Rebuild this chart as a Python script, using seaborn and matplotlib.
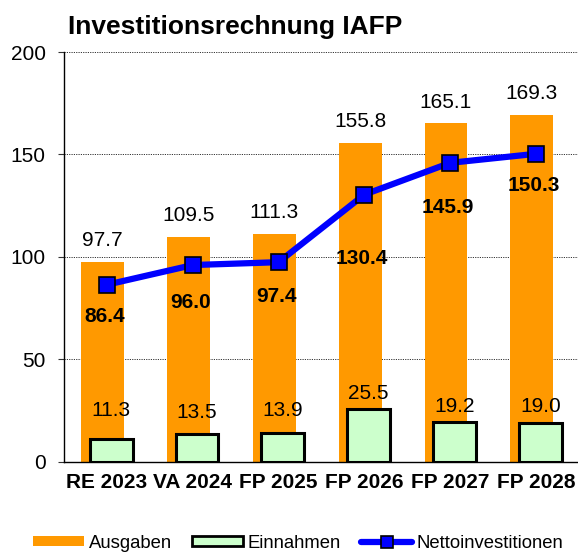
import matplotlib
matplotlib.use("Agg")
import matplotlib.pyplot as plt
import seaborn as sns
import pandas as pd
from matplotlib.patches import Patch
from matplotlib.lines import Line2D

# ---- data ----
categories = ["RE 2023", "VA 2024", "FP 2025", "FP 2026", "FP 2027", "FP 2028"]
ausgaben = [97.7, 109.5, 111.3, 155.8, 165.1, 169.3]
einnahmen = [11.3, 13.5, 13.9, 25.5, 19.2, 19.0]
netto = [86.4, 96.0, 97.4, 130.4, 145.9, 150.3]
yticks = [0, 50, 100, 150, 200]

# ---- layout (label offsets in points) ----
off_ausgaben = 11.5
off_einnahmen = [16.3, 11.5, 12.2, 7.7, 7.2, 7.7]
off_netto = [26.6, 31.0, 28.8, 49.7, 36.0, 26.6]

ORANGE = "#FF9900"
GREEN = "#CCFFCC"
BLUE = "#0000FF"

sns.set_style("white")
plt.rcParams["font.family"] = ["Liberation Sans", "DejaVu Sans"]
plt.rcParams["text.color"] = "black"
plt.rcParams["axes.labelcolor"] = "black"
plt.rcParams["xtick.color"] = "black"
plt.rcParams["ytick.color"] = "black"

df = pd.DataFrame({"cat": categories, "aus": ausgaben, "ein": einnahmen, "net": netto})

W, H = 578, 552
fig = plt.figure(figsize=(W / 100, H / 100), dpi=100)
ax = fig.add_axes([64 / W, (H - 461.7) / H, (579 - 64) / W, (461.7 - 52) / H])

sns.barplot(data=df, x="cat", y="aus", color=ORANGE, width=0.5, saturation=1,
            edgecolor="none", ax=ax, zorder=2)
n_aus = len(ax.patches)
for p in ax.patches:
    p.set_x(p.get_x() - 0.05)

sns.barplot(data=df, x="cat", y="ein", color=GREEN, width=0.5, saturation=1,
            edgecolor="black", linewidth=2.2, ax=ax, zorder=3)
green_patches = ax.patches[n_aus:]
for p in green_patches:
    p.set_x(p.get_x() + 0.05)

sns.lineplot(data=df, x="cat", y="net", color=BLUE, linewidth=4.5, marker="s",
             markersize=11, markerfacecolor=BLUE, markeredgecolor="black",
             markeredgewidth=1.2, sort=False, ax=ax, zorder=4)

# labels
for i, p in enumerate(ax.patches[:n_aus]):
    ax.annotate(f"{ausgaben[i]:.1f}", (p.get_x() + p.get_width() / 2, p.get_height()),
                xytext=(0, off_ausgaben), textcoords="offset points",
                ha="center", va="baseline", fontsize=15, color="black", zorder=6)
for i, p in enumerate(green_patches):
    ax.annotate(f"{einnahmen[i]:.1f}", (p.get_x() + p.get_width() / 2, p.get_height()),
                xytext=(0, off_einnahmen[i]), textcoords="offset points",
                ha="center", va="baseline", fontsize=15, color="black", zorder=6)
for i, v in enumerate(netto):
    ax.annotate(f"{v:.1f}", (i - 0.03, v), xytext=(0, -off_netto[i]),
                textcoords="offset points", ha="center", va="baseline",
                fontsize=15, fontweight="bold", color="black", zorder=6)

ax.set_xlim(-0.5, 5.5)
ax.set_ylim(0, 200)
ax.set_yticks(yticks)
ax.set_yticklabels([str(t) for t in yticks])
ax.set_xlabel("")
ax.set_ylabel("")
ax.yaxis.grid(True, linestyle=(0, (1.2, 1.2)), color="#333333", linewidth=0.7, zorder=0)
ax.set_axisbelow(True)
for s in ["top", "right"]:
    ax.spines[s].set_visible(False)
for s in ["left", "bottom"]:
    ax.spines[s].set_color("black")
    ax.spines[s].set_linewidth(1.0)
ax.tick_params(axis="y", which="both", left=True, length=4.3, width=0.8,
               color="#333333", labelcolor="black", pad=9, labelsize=15)
ax.tick_params(axis="x", length=0, pad=8, labelsize=15, labelcolor="black")
for lbl in ax.get_xticklabels():
    lbl.set_fontweight("bold")

fig.text(68 / W, (H - 34) / H, "Investitionsrechnung IAFP", fontsize=19,
         fontweight="bold", ha="left", va="baseline", color="black")

handles = [
    Patch(facecolor=ORANGE, edgecolor="none"),
    Patch(facecolor=GREEN, edgecolor="black", linewidth=2.0),
    Line2D([], [], color=BLUE, linewidth=4.5, marker="s", markersize=9,
           markerfacecolor=BLUE, markeredgecolor="black", markeredgewidth=1.2),
]
leg = fig.legend(handles, ["Ausgaben", "Einnahmen", "Nettoinvestitionen"],
                 loc="center left", bbox_to_anchor=(33 / W, (H - 543) / H), ncol=3,
                 frameon=False, fontsize=13.3, handlelength=2.77, handleheight=0.5,
                 handletextpad=0.24, columnspacing=1.1, borderpad=0, borderaxespad=0)
for t in leg.get_texts():
    t.set_color("black")

fig.savefig("out.png", dpi=100)
